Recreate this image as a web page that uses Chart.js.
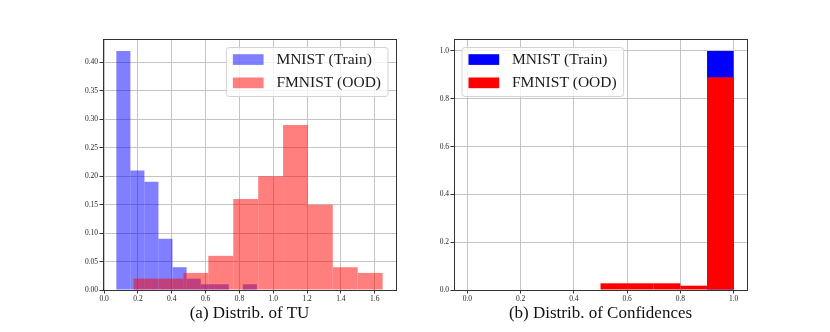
<!DOCTYPE html>
<html>
<head>
<meta charset="utf-8">
<script src="https://cdn.jsdelivr.net/npm/chart.js@4.4.1/dist/chart.umd.min.js"></script>
<style>
	body { margin: 0; background: #fff; }
	#fig { position: relative; width: 830px; height: 332px; overflow: hidden; }
	#fig canvas { position: absolute; top: 0; }
	.caption {
		position: absolute;
		top: 304px;
		font: 17px "Liberation Serif", serif;
		line-height: 17px;
		color: #111;
		text-align: center;
		white-space: nowrap;
	}
</style>
</head>
<body>
<div id="fig">
	<canvas id="tuChart" width="415" height="310" style="left:0"></canvas>
	<canvas id="confChart" width="415" height="310" style="left:415px"></canvas>
	<div class="caption" style="left:103px;width:293px">(a) Distrib. of TU</div>
	<div class="caption" style="left:454px;width:293px">(b) Distrib. of Confidences</div>
</div>
<script>
const seriesLabels = ["MNIST (Train)", "FMNIST (OOD)"];

// (a) total uncertainty: bin edges and fraction of samples per bin
const tuEdgesMnist = [0.072, 0.155, 0.238, 0.321, 0.404, 0.488, 0.571, 0.654, 0.737, 0.82, 0.903];
const tuMnist = [0.42, 0.21, 0.19, 0.09, 0.04, 0.02, 0.01, 0.01, 0.0, 0.01];
const tuEdgesFmnist = [0.174, 0.321, 0.469, 0.616, 0.763, 0.911, 1.058, 1.205, 1.352, 1.5, 1.647];
const tuFmnist = [0.02, 0.02, 0.03, 0.06, 0.16, 0.2, 0.29, 0.15, 0.04, 0.03];
const tuXRange = [-0.007, 1.726];
const tuYRange = [0, 0.441];

// (b) confidences
const confEdges = [0.0, 0.1, 0.2, 0.3, 0.4, 0.5, 0.6, 0.7, 0.8, 0.9, 1.0];
const confMnist = [0, 0, 0, 0, 0, 0, 0, 0, 0, 1.0];
const confFmnist = [0, 0, 0, 0, 0, 0.028, 0.028, 0.028, 0.018, 0.89];
const confXRange = [-0.05, 1.05];
const confYRange = [0, 1.05];

const tickFont = { family: '"Liberation Serif", serif', size: 7.5 };
const gridColor = "#c4c4c4";
const spineColor = "#333333";

const toBins = (edges, values) => values.map((v, i) => ({ x: (edges[i] + edges[i + 1]) / 2, y: v }));

// matplotlib style box around the plot area
const frame = {
	id: "frame",
	afterDatasetsDraw(chart) {
		const { ctx, chartArea } = chart;
		const l = Math.floor(chartArea.left) + 0.5;
		const t = Math.floor(chartArea.top) + 0.5;
		const r = Math.floor(chartArea.right) + 0.5;
		const b = Math.floor(chartArea.bottom) + 0.5;
		ctx.save();
		ctx.strokeStyle = spineColor;
		ctx.lineWidth = 1;
		ctx.strokeRect(l, t, r - l, b - t);
		ctx.restore();
	},
};

// legend drawn inside the axes, like plt.legend()
const boxLegend = {
	id: "boxLegend",
	afterDatasetsDraw(chart, args, opts) {
		const { ctx, chartArea } = chart;
		const datasets = chart.data.datasets;
		ctx.save();
		ctx.font = '15.5px "Liberation Serif", serif';
		const textW = Math.max(...datasets.map((ds) => ctx.measureText(ds.label).width));
		const w = 50 + textW + 7;
		const h = 49;
		const x = opts.corner === "right" ? chartArea.right - 8 - w : chartArea.left + 8;
		const y = chartArea.top + 8.5;
		ctx.beginPath();
		ctx.roundRect(x, y, w, h, 3);
		ctx.fillStyle = "rgba(255,255,255,0.8)";
		ctx.fill();
		ctx.strokeStyle = "#d2d2d2";
		ctx.lineWidth = 1;
		ctx.stroke();
		datasets.forEach((ds, i) => {
			const cy = y + 12 + i * 23.3;
			ctx.fillStyle = ds.backgroundColor;
			ctx.fillRect(x + 6.5, cy - 5.3, 30.7, 10.7);
			ctx.fillStyle = "#1a1a1a";
			ctx.textBaseline = "middle";
			ctx.fillText(ds.label, x + 50, cy + 0.5);
		});
		ctx.restore();
	},
};

const xAxis = (range, extra) => ({
	type: "linear",
	min: range[0],
	max: range[1],
	offset: false,
	grid: { offset: false, color: gridColor, lineWidth: 1, tickColor: spineColor, tickLength: 3.5, tickWidth: 1 },
	border: { display: false },
	ticks: {
		stepSize: 0.2,
		includeBounds: false,
		autoSkip: false,
		maxRotation: 0,
		padding: 1,
		color: "#262626",
		font: tickFont,
		callback: (v) => v.toFixed(1),
	},
	...extra,
});

const yAxis = (range, step, digits, width) => ({
	min: range[0],
	max: range[1],
	grid: { color: gridColor, lineWidth: 1, tickColor: spineColor, tickLength: 3.5, tickWidth: 1 },
	border: { display: false },
	ticks: {
		stepSize: step,
		includeBounds: false,
		autoSkip: false,
		padding: 1.5,
		color: "#262626",
		font: tickFont,
		callback: (v) => v.toFixed(digits),
	},
	afterFit: (scale) => {
		scale.width = width;
	},
});

const barStyle = {
	barPercentage: 1,
	categoryPercentage: 1,
	grouped: false,
	borderWidth: 0,
	inflateAmount: 0,
};

const baseOptions = (padRight, scales, corner) => ({
	responsive: false,
	animation: false,
	layout: { padding: { left: 0, top: 39, right: padRight, bottom: 0 } },
	plugins: {
		legend: { display: false },
		tooltip: { enabled: false },
		boxLegend: { corner },
	},
	scales,
});

new Chart(document.getElementById("tuChart"), {
	type: "bar",
	data: {
		datasets: [
			{
				label: seriesLabels[0],
				data: toBins(tuEdgesMnist, tuMnist),
				backgroundColor: "rgba(0, 0, 255, 0.5)",
				xAxisID: "x",
				order: 1,
				...barStyle,
			},
			{
				label: seriesLabels[1],
				data: toBins(tuEdgesFmnist, tuFmnist),
				backgroundColor: "rgba(255, 0, 0, 0.5)",
				xAxisID: "x2",
				order: 0,
				...barStyle,
			},
		],
	},
	options: baseOptions(19, {
		x: xAxis(tuXRange, { afterFit: (s) => { s.height = 20; } }),
		x2: xAxis(tuXRange, { display: false }),
		y: yAxis(tuYRange, 0.05, 2, 103),
	}, "right"),
	plugins: [frame, boxLegend],
});

new Chart(document.getElementById("confChart"), {
	type: "bar",
	data: {
		datasets: [
			{
				label: seriesLabels[0],
				data: toBins(confEdges, confMnist),
				backgroundColor: "#0000ff",
				order: 1,
				...barStyle,
			},
			{
				label: seriesLabels[1],
				data: toBins(confEdges, confFmnist),
				backgroundColor: "#ff0000",
				order: 0,
				...barStyle,
			},
		],
	},
	options: baseOptions(83, {
		x: xAxis(confXRange, { afterFit: (s) => { s.height = 20; } }),
		y: yAxis(confYRange, 0.2, 1, 39),
	}, "left"),
	plugins: [frame, boxLegend],
});
</script>
</body>
</html>
